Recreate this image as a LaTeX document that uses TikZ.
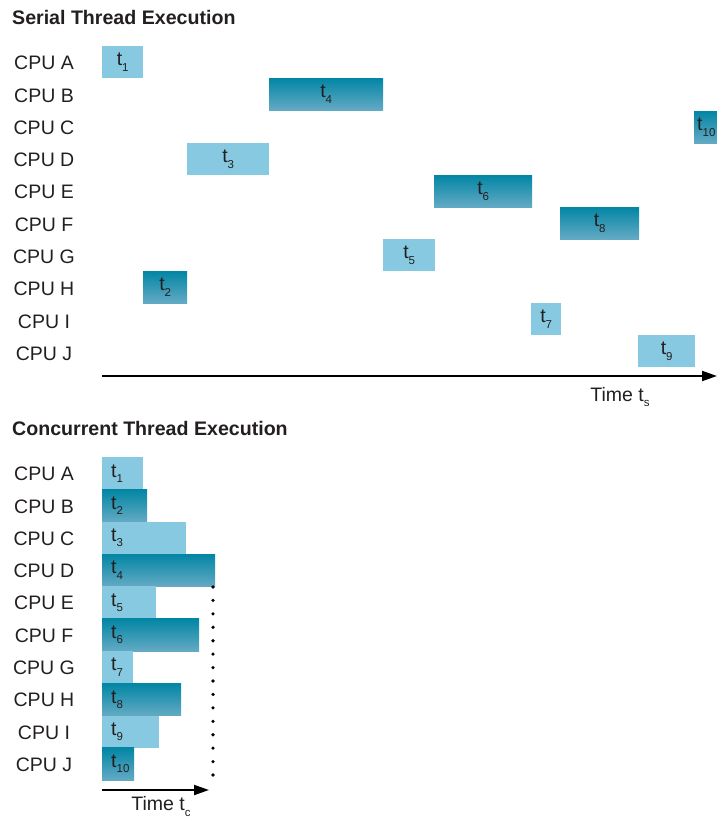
\documentclass[tikz,border=0pt]{standalone}
\usepackage{fontspec}
\setmainfont{Liberation Sans}
\usetikzlibrary{arrows.meta}
\definecolor{lightbar}{RGB}{134,201,224}
\definecolor{darktop}{RGB}{2,134,164}
\definecolor{darkbot}{RGB}{100,170,196}
\definecolor{ink}{RGB}{35,31,32}
% thread label: t with a lowered small index
\newcommand{\tlab}[1]{t\raisebox{-0.5ex}{\fontsize{11.5}{12}\selectfont #1}}
\tikzset{
  lbl/.style={font=\fontsize{19.5}{23}\selectfont, text=ink, inner sep=0pt},
  ttl/.style={font=\fontsize{19.6}{23}\selectfont\bfseries, text=ink, inner sep=0pt, anchor=west},
  lightbox/.style={fill=lightbar, draw=none, inner sep=0pt, anchor=north west},
  darkbox/.style={top color=darktop, bottom color=darkbot, draw=none, inner sep=0pt, anchor=north west},
  axis/.style={line width=2pt, draw=black, -{Triangle[length=15pt,width=10pt]}},
}
\begin{document}
\begin{tikzpicture}[x=1pt,y=-1pt]
\useasboundingbox (0,0) rectangle (717,819);
\clip (0,0) rectangle (717,819);

% ---------- serial execution ----------
\node[ttl] (stitle) at (12,17) {Serial Thread Execution};
\foreach \n/\cpu [count=\i from 0] in {sa/A,sb/B,sc/C,sd/D,se/E,sf/F,sg/G,sh/H,si/I,sj/J}
  \node[lbl] (\n) at (44,{63+32.3*\i}) {CPU \cpu};

% bars: name, style, x0, y0, width
\foreach \n/\s/\x/\y/\w in {
    s1/lightbox/102/46/41,
    s4/darkbox/269/78/114,
    s10/darkbox/694/111/40,
    s3/lightbox/187/143/82,
    s6/darkbox/434/175/98,
    s8/darkbox/560/207/79,
    s5/lightbox/383/239/52,
    s2/darkbox/143/271/44,
    s7/lightbox/531/303/30,
    s9/lightbox/638/335/57}
  \node[\s, minimum width=\w, minimum height=32] (\n) at (\x,\y) {};
\foreach \n/\t in {s1/1,s4/4,s3/3,s6/6,s8/8,s5/5,s2/2,s7/7,s9/9}
  \node[lbl] at (\n.center) {\tlab{\t}};
\node[lbl, anchor=west] at ([xshift=3pt]s10.west) {\tlab{10}};

\coordinate (sx0) at (102,376);
\coordinate (sx1) at (717,376);
\draw[axis] (sx0) -- (sx1);
\node[lbl] (stime) at (620,397) {Time \tlab{s}};

% ---------- concurrent execution ----------
\node[ttl] (ctitle) at (12,428) {Concurrent Thread Execution};
\foreach \n/\cpu [count=\i from 0] in {ca/A,cb/B,cc/C,cd/D,ce/E,cf/F,cg/G,ch/H,ci/I,cj/J}
  \node[lbl] (\n) at (44,{474+32.3*\i}) {CPU \cpu};

\foreach \n/\s/\w/\t [count=\i from 0] in {
    c1/lightbox/41/1,
    c2/darkbox/45/2,
    c3/lightbox/84/3,
    c4/darkbox/113/4,
    c5/lightbox/54/5,
    c6/darkbox/97/6,
    c7/lightbox/31/7,
    c8/darkbox/79/8,
    c9/lightbox/57/9,
    c10/darkbox/32/10}
{
  \node[\s, minimum width=\w, minimum height=32.3] (\n) at (102,{457+32.3*\i}) {};
  \node[lbl, anchor=west] at ([xshift=9pt]\n.west) {\tlab{\t}};
}

% completion marker under the longest thread
\coordinate (cd0) at (213,587);
\coordinate (cd1) at (213,775.1);
\draw[line width=3.6pt, line cap=round, dash pattern=on 0pt off 13.43pt] (cd0) -- (cd1);

\coordinate (cx0) at (102,790);
\coordinate (cx1) at (209,790);
\draw[axis] (cx0) -- (cx1);
\node[lbl] (ctime) at (161,806.5) {Time \tlab{c}};
\end{tikzpicture}
\end{document}
